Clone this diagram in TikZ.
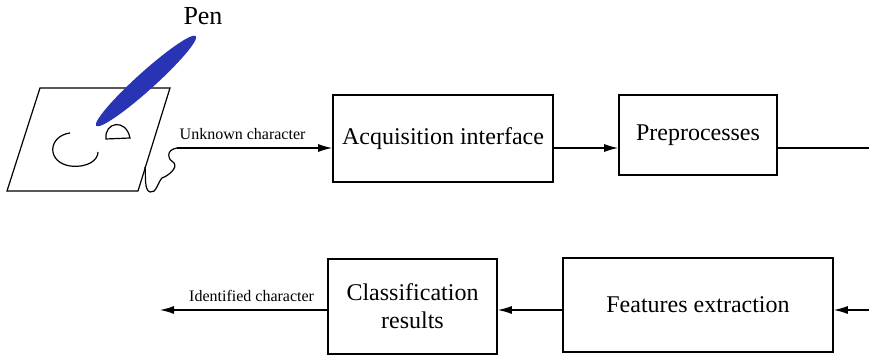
\documentclass[tikz,border=0pt]{standalone}
\usepackage{fontspec}
\setmainfont{Liberation Serif}
\usepackage{xcolor}
\usetikzlibrary{arrows.meta}
\definecolor{penblue}{RGB}{40,52,180}

\begin{document}
\begin{tikzpicture}[x=0.5pt, y=-0.5pt,
		block/.style={draw, thick, rectangle, font=\fontsize{12}{14}\selectfont, align=center},
		flow/.style={-{Latex[length=7pt, width=4pt]}, semithick},
		tag/.style={font=\fontsize{8}{9}\selectfont, inner sep=1pt}]
			\useasboundingbox (0,0) rectangle (869,356);
			% Blocks
			\node[block, minimum width=110pt, minimum height=43.5pt] (acq) at (443,138.5) {Acquisition interface};
			\node[block, minimum width=79pt, minimum height=40pt] (pre) at (698,135) {Preprocesses};
			\node[block, minimum width=135pt, minimum height=47pt] (feat) at (698,305) {Features extraction};
			\node[block, minimum width=84.5pt, minimum height=47.5pt] (cls) at (412.5,306.5) {Classification\\results};
			\node[draw=none, font=\fontsize{13}{15}\selectfont] (pen) at (203,16) {Pen};
			% Free ends
			\coordinate (inp) at (177,148);
			\coordinate (out) at (160,310);
			\coordinate (r1) at (869,148);
			\coordinate (r2) at (869,310);
			% Paper and pen
			\draw[semithick] (40,88) -- (170,88) -- (138,191) -- (7,191) -- cycle;
			\fill[penblue, rotate around={42:(146,81)}] (146,81) ellipse (67 and 9);
			\draw[semithick] (70,133) .. controls (48,136) and (46,162) .. (70,166)
				.. controls (88,168) and (98,160) .. (98,152);
			\draw[semithick] (106,139) .. controls (104,122) and (126,118) .. (130,138) -- cycle;
			\draw[semithick] (inp) .. controls (165,150) and (168,160) .. (174,163)
				.. controls (178,168) and (168,176) .. (162,178)
				.. controls (158,182) and (156,194) .. (150,192)
				.. controls (144,190) and (146,176) .. (145,167);
			% Edges
			\draw[flow] (inp) -- node[tag, above=3pt, xshift=-6pt] {Unknown character} (inp -| acq.west);
			\draw[flow] (acq.east |- 0,148) -- (pre.west |- 0,148);
			\draw[semithick] (pre.east |- 0,148) -- (r1);
			\draw[flow] (r2) -- (feat.east |- r2);
			\draw[flow] (feat.west |- r2) -- (cls.east |- r2);
			\draw[flow] (cls.west |- r2) -- node[tag, above=3pt, xshift=4pt] {Identified character} (out);
		\end{tikzpicture}
\end{document}
